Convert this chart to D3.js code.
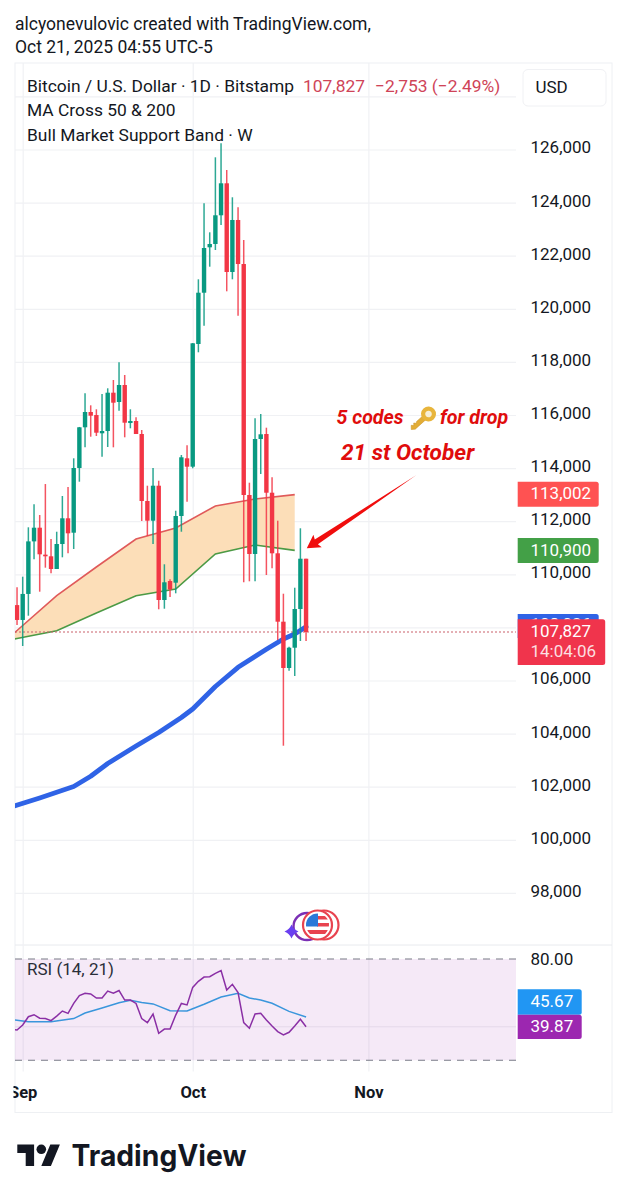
<!DOCTYPE html>
<html>
<head>
<meta charset="utf-8">
<script src="https://d3js.org/d3.v7.min.js"></script>
<style>
html, body { margin: 0; padding: 0; background: #fff; }
svg { display: block; font-family: Roboto, sans-serif; }
</style>
</head>
<body>
<svg id="chart" width="627" height="1200"></svg>
<script>
// daily candles, Aug 31 to Oct 21 2025
var firstDay = "2025-08-31";
var opens = [108840,108280,109260,111240,111755,110740,110678,110200,111141,112109,111567,114004,115537,116113,115999,115311,115397,116840,116490,117130,115698,115774,115284,112761,112019,113337,109032,109747,109684,112196,114369,114053,118674,120606,122316,122441,123522,124727,121386,123345,121687,112987,110765,115096,115284,113073,110791,108215,106471,107235,108693,110587];
var closes = [108280,109260,111240,111755,110753,110678,110200,111141,112109,111544,114004,115537,116113,115974,115333,115397,116840,116463,117130,115710,115774,115284,112761,112019,113337,109032,109699,109430,112196,114407,114053,118701,120606,122290,122441,123522,124727,121386,123345,121687,112987,110765,115096,115273,113073,110791,108215,106471,107235,108693,110587,107827];
var highs = [109510,109910,111770,112636,112233,113400,111330,111604,112949,113288,114369,115550,116817,116365,116215,116791,117006,117318,117985,117507,116215,115913,115435,113337,114004,113525,110377,109812,112395,114493,114859,118710,121111,123974,122881,125706,126234,125228,124200,123823,122591,113450,115876,116038,115522,113653,112019,109269,107270,109495,111733,110587];
var lows = [108090,107300,108440,110565,109345,110249,110038,110200,110640,110791,110953,113488,114783,115183,115209,114429,114795,114783,116162,115160,115499,115284,112007,111443,111141,108682,108704,109145,109284,111604,112734,113993,118362,119363,121586,122215,123156,120659,121111,119740,109699,109736,109736,113778,109974,110226,107525,103544,106369,106169,107488,107488];

// weekly bull market support band
var bandDates = ["2025-08-24","2025-08-31","2025-09-07","2025-09-14","2025-09-21","2025-09-28","2025-10-05","2025-10-12","2025-10-19"];
var bandUpper = [106584,107883,109194,110275,111330,111744,112573,112836,113002];
var bandLower = [107299,107582,107875,108542,109194,109446,110765,111103,110900];

// MA 200
var maDates = ["2025-08-30","2025-09-04","2025-09-10","2025-09-13","2025-09-16","2025-09-21","2025-09-25","2025-09-29","2025-10-01","2025-10-05","2025-10-09","2025-10-14","2025-10-17","2025-10-19","2025-10-21"];
var maValues = [101235,101574,102007,102392,102874,103533,104041,104606,104926,105774,106497,107175,107563,107751,108026];

// RSI, one value per day from Aug 30
var rsiFirstDay = "2025-08-30";
var rsiValues = [38.3,37.9,40.9,45.8,47.0,44.9,44.7,43.5,46.2,49.2,47.8,53.7,58.3,59.7,59.3,56.9,56.9,61.0,59.7,61.3,55.7,55.7,53.7,44.7,42.3,47.4,36.0,38.5,38.5,46.8,53.7,52.8,63.2,66.8,69.3,69.5,71.5,73.1,61.6,65.0,60.1,42.3,39.0,47.4,47.8,43.9,40.3,37.0,35.0,36.6,40.3,44.3,39.87];
var rsiMaDates = ["2025-08-30","2025-08-31","2025-09-02","2025-09-06","2025-09-10","2025-09-12","2025-09-15","2025-09-18","2025-09-20","2025-09-22","2025-09-24","2025-09-27","2025-09-30","2025-10-03","2025-10-06","2025-10-09","2025-10-11","2025-10-13","2025-10-15","2025-10-18","2025-10-21"];
var rsiMaValues = [44.0,43.7,42.9,42.9,44.7,48.0,51.0,54.1,55.5,54.3,53.4,49.4,49.2,53.2,57.5,59.7,56.9,55.7,53.8,49.0,45.67];

var priceTicks = [128000,126000,124000,122000,120000,118000,116000,114000,112000,110000,108000,106000,104000,102000,100000,98000];
var monthTicks = ["2025-09-01","2025-10-01","2025-11-01"];

var parse = d3.utcParse("%Y-%m-%d");
var days = d3.utcDay.range(parse(firstDay), d3.utcDay.offset(parse(firstDay), opens.length));
var rsiDays = d3.utcDay.range(parse(rsiFirstDay), d3.utcDay.offset(parse(rsiFirstDay), rsiValues.length));

var candles = days.map(function(d, i) {
  return { date: d, o: opens[i], c: closes[i], h: highs[i], l: lows[i] };
});

var UP = "#089981", DOWN = "#f23645", GRID = "#f0f1f4", BORDER = "#eef0f3";
var left = 15, right = 516, outerRight = 612;

var svg = d3.select("#chart");

var x = d3.scaleUtc().domain([parse("2025-09-01"), parse("2025-11-01")]).range([22.7, 368.4]);
var y = d3.scaleLinear().domain([126000, 98000]).range([149.5, 892.9]);
var rsiY = d3.scaleLinear().domain([80, 20]).range([959, 1060.3]);

// clip paths
var defs = svg.append("defs");
defs.append("clipPath").attr("id", "priceClip").append("rect")
  .attr("x", left).attr("y", 63).attr("width", right - left).attr("height", 882);
defs.append("clipPath").attr("id", "rsiClip").append("rect")
  .attr("x", left).attr("y", 945).attr("width", right - left).attr("height", 127);
defs.append("clipPath").attr("id", "monthClip").append("rect")
  .attr("x", 13.5).attr("y", 1075).attr("width", 500).attr("height", 35);

// frame
svg.append("rect").attr("x", left).attr("y", 63).attr("width", outerRight - left).attr("height", 1049.5)
  .attr("fill", "none").attr("stroke", BORDER);
svg.append("line").attr("x1", left).attr("x2", outerRight).attr("y1", 945).attr("y2", 945)
  .attr("stroke", "#e8eaee");

// price axis, the ticks double as the grid
var priceAxis = svg.append("g").attr("transform", "translate(" + right + ",0)")
  .call(d3.axisRight(y).tickValues(priceTicks)
    .tickFormat(d3.format(",")).tickSizeInner(-(right - left)).tickSizeOuter(0).tickPadding(14.5));
priceAxis.select(".domain").remove();
priceAxis.selectAll("line").attr("stroke", GRID).attr("stroke-width", 1.2);
priceAxis.selectAll("text").attr("font-size", 17).attr("font-family", "Roboto").attr("fill", "#131722")
  .attr("dy", "0.2em");
priceAxis.selectAll(".tick").filter(function(d) { return d == 128000; }).select("text").remove();

// month grid lines
var monthGrid = svg.append("g").attr("transform", "translate(0,1071.5)")
  .call(d3.axisBottom(x).tickValues(monthTicks.map(parse)).tickFormat("")
    .tickSizeInner(-1008.5).tickSizeOuter(0));
monthGrid.select(".domain").remove();
monthGrid.selectAll("line").attr("stroke", GRID).attr("stroke-width", 1.2);

// month labels, Sep gets cut by the pane edge
var monthAxis = svg.append("g").attr("clip-path", "url(#monthClip)").append("g")
  .attr("transform", "translate(0,1071.5)")
  .call(d3.axisBottom(x).tickValues(monthTicks.map(parse)).tickFormat(d3.utcFormat("%b"))
    .tickSize(0).tickPadding(15));
monthAxis.select(".domain").remove();
monthAxis.selectAll("text").attr("font-size", 16.5).attr("font-weight", 700).attr("font-family", "Roboto")
  .attr("fill", "#131722");

// price pane
var pricePane = svg.append("g").attr("clip-path", "url(#priceClip)");

var band = bandDates.map(function(d, i) {
  return { date: parse(d), up: bandUpper[i], low: bandLower[i] };
});
pricePane.append("path").datum(band).attr("fill", "#fcdcb4").attr("fill-opacity", 0.95)
  .attr("d", d3.area().x(function(d) { return x(d.date); })
    .y0(function(d) { return y(d.low); }).y1(function(d) { return y(d.up); }));
pricePane.append("path").datum(band).attr("fill", "none").attr("stroke", "#e05a5a").attr("stroke-width", 1.6)
  .attr("d", d3.line().x(function(d) { return x(d.date); }).y(function(d) { return y(d.up); }));
pricePane.append("path").datum(band).attr("fill", "none").attr("stroke", "#4c9a45").attr("stroke-width", 1.6)
  .attr("d", d3.line().x(function(d) { return x(d.date); }).y(function(d) { return y(d.low); }));

var ma = maDates.map(function(d, i) { return { date: parse(d), v: maValues[i] }; });
pricePane.append("path").datum(ma).attr("fill", "none").attr("stroke", "#2f63e6").attr("stroke-width", 4.8)
  .attr("stroke-linecap", "round").attr("stroke-linejoin", "round")
  .attr("d", d3.line().x(function(d) { return x(d.date); }).y(function(d) { return y(d.v); }));

// last price line
pricePane.append("line").attr("x1", left).attr("x2", right).attr("y1", y(107827)).attr("y2", y(107827))
  .attr("stroke", "#c9606a").attr("stroke-width", 1.2).attr("stroke-dasharray", "2,2");

var candle = pricePane.selectAll(".candle").data(candles).enter().append("g").attr("class", "candle")
  .attr("fill", function(d) { return d.c >= d.o ? UP : DOWN; })
  .attr("stroke", function(d) { return d.c >= d.o ? UP : DOWN; });
candle.append("line")
  .attr("x1", function(d) { return x(d.date); }).attr("x2", function(d) { return x(d.date); })
  .attr("y1", function(d) { return y(d.h); }).attr("y2", function(d) { return y(d.l); })
  .attr("stroke-width", 1.5).attr("stroke-opacity", 0.85);
candle.append("rect")
  .attr("x", function(d) { return x(d.date) - 2.2; }).attr("width", 4.4)
  .attr("y", function(d) { return y(Math.max(d.o, d.c)); })
  .attr("height", function(d) { return Math.max(1.5, Math.abs(y(d.o) - y(d.c))); })
  .attr("stroke", "none");

// arrow, anchored on date and price
var arrowTip = [new Date(Date.UTC(2025, 9, 21, 3)), 110979];
var arrowTail = [new Date(Date.UTC(2025, 10, 9, 10)), 113728];
var tipX = x(arrowTip[0]), tipY = y(arrowTip[1]), tailX = x(arrowTail[0]), tailY = y(arrowTail[1]);
var len = Math.hypot(tailX - tipX, tailY - tipY);
svg.append("g").attr("transform", "translate(" + tipX + "," + tipY + ") rotate(" + (Math.atan2(tailY - tipY, tailX - tipX) * 180 / Math.PI) + ")")
  .append("path").attr("fill", "#f00d0d")
  .attr("d", "M0,0 L13,-7.5 L11.5,-2.8 L" + len + ",0 L11.5,2.8 L13,7.5 Z");

// RSI pane
var rsiPane = svg.append("g").attr("clip-path", "url(#rsiClip)");
rsiPane.append("rect").attr("x", left).attr("width", right - left)
  .attr("y", rsiY(80)).attr("height", rsiY(20) - rsiY(80)).attr("fill", "#9c27b0").attr("fill-opacity", 0.1);
rsiPane.append("line").attr("x1", left).attr("x2", right).attr("y1", rsiY(39.87)).attr("y2", rsiY(39.87))
  .attr("stroke", "#e4d8ea");
[80, 20].forEach(function(v) {
  rsiPane.append("line").attr("x1", left).attr("x2", right).attr("y1", rsiY(v)).attr("y2", rsiY(v))
    .attr("stroke", "#787b86").attr("stroke-width", 1.1).attr("stroke-dasharray", "7,6");
});
rsiPane.append("path").datum(rsiMaDates.map(function(d, i) { return { date: parse(d), v: rsiMaValues[i] }; }))
  .attr("fill", "none").attr("stroke", "#3a96dc").attr("stroke-width", 1.5)
  .attr("d", d3.line().x(function(d) { return x(d.date); }).y(function(d) { return rsiY(d.v); }));
rsiPane.append("path").datum(rsiDays.map(function(d, i) { return { date: d, v: rsiValues[i] }; }))
  .attr("fill", "none").attr("stroke", "#8a2fa5").attr("stroke-width", 1.5)
  .attr("d", d3.line().x(function(d) { return x(d.date); }).y(function(d) { return rsiY(d.v); }));

var rsiAxis = svg.append("g").attr("transform", "translate(" + right + ",0)")
  .call(d3.axisRight(rsiY).tickValues([80]).tickFormat(d3.format(".2f")).tickSize(0).tickPadding(14.5));
rsiAxis.select(".domain").remove();
rsiAxis.selectAll("text").attr("font-size", 17).attr("font-family", "Roboto").attr("fill", "#131722").attr("dy", "0.3em");

// text helper
function label(txt, px, py, size, color, weight, style) {
  return svg.append("text").attr("x", px).attr("y", py).attr("font-size", size).attr("fill", color)
    .attr("font-weight", weight || 400).attr("font-style", style || "normal").text(txt);
}

// price tags
function tag(px0, py0, w, h, color, lines, shift) {
  svg.append("path").attr("fill", color)
    .attr("d", "M" + px0 + "," + py0 + " h" + (w - 2.5) + " q2.5,0 2.5,2.5 v" + (h - 5) + " q0,2.5 -2.5,2.5 h-" + (w - 2.5) + " Z");
  lines.forEach(function(l, i) {
    label(l, 530.5, py0 + h / 2 + 5 + (shift || 0) - (lines.length - 1) * 10.5 + i * 20, 17, "#fff").attr("fill-opacity", i ? 0.85 : 1);
  });
}
tag(517.7, 481.7, 81, 25, "#ff5252", [d3.format(",")(bandUpper[bandUpper.length - 1])]);
tag(517.7, 538, 81, 25, "#43a047", [d3.format(",")(bandLower[bandLower.length - 1])]);
tag(517.7, 614, 81, 24, "#2f63e6", [d3.format(",")(Math.round(maValues[maValues.length - 1]))], -1);
tag(517.7, 619.3, 87.5, 45.7, "#f0344c", [d3.format(",")(closes[closes.length - 1]), "14:04:06"]);
tag(517.7, 989.3, 64, 25.4, "#2196f3", ["45.67"]);
tag(517.7, 1014.7, 64, 24.3, "#9c27b0", ["39.87"]);

// header and legend
label("alcyonevulovic created with TradingView.com,", 15, 29.5, 17.5, "#131722");
label("Oct 21, 2025 04:55 UTC-5", 15, 53, 17.5, "#131722");
label("Bitcoin / U.S. Dollar · 1D · Bitstamp", 27, 92, 17.4, "#131722");
label("107,827", 303, 92, 17.4, "#cf4458");
label("−2,753 (−2.49%)", 375, 92, 17.4, "#cf4458");
label("MA Cross 50 & 200", 27, 116, 17.4, "#131722");
label("Bull Market Support Band · W", 27, 141, 17.4, "#131722");
label("RSI (14, 21)", 27, 974.5, 17, "#2a2e39");

svg.append("rect").attr("x", 523).attr("y", 69.5).attr("width", 83).attr("height", 36.5).attr("rx", 5)
  .attr("fill", "#fff").attr("stroke", "#f0f1f4");
label("USD", 535.5, 93, 17, "#131722");

// annotation
label("5 codes", 336.5, 424, 19.6, "#e00c0c", 700, "italic");
label("for drop", 440, 424, 19.6, "#e00c0c", 700, "italic");
label("21 st October", 341, 459.5, 22.6, "#e00c0c", 700, "italic");
var key = svg.append("g").attr("transform", "translate(428.5,414) rotate(48)");
key.append("path").attr("fill", "#e3ad35").attr("stroke", "#c8922a").attr("stroke-width", 0.5)
  .attr("d", "M-2.4,4 h4.8 v16 l-2.4,3.2 l-3.2,-2.8 l2,-1.7 l-2,-1.7 l2,-1.7 l-1.2,-1.4 Z");
key.append("circle").attr("r", 5.4).attr("fill", "#f6efd8").attr("stroke", "#e8b53c").attr("stroke-width", 4.2);

// floating icons
var icons = svg.append("g");
icons.append("circle").attr("cx", 307).attr("cy", 926.5).attr("r", 13.5).attr("fill", "none").attr("stroke", "#7b2fb5").attr("stroke-width", 2.4);
icons.append("path").attr("fill", "#6a3ff0")
  .attr("d", "M291.5,924.5 Q293.5,929.5 298.5,931.5 Q293.5,933.5 291.5,938.5 Q289.5,933.5 284.5,931.5 Q289.5,929.5 291.5,924.5 Z");
icons.append("circle").attr("cx", 324).attr("cy", 925).attr("r", 14.5).attr("fill", "#fff").attr("stroke", "#e8434f").attr("stroke-width", 2.2);
icons.append("circle").attr("cx", 317.5).attr("cy", 925).attr("r", 14.5).attr("fill", "#fff").attr("stroke", "#e8434f").attr("stroke-width", 2.2);
defs.append("clipPath").attr("id", "flagClip").append("circle").attr("cx", 317.5).attr("cy", 925).attr("r", 11.5);
var flag = icons.append("g").attr("clip-path", "url(#flagClip)");
flag.append("rect").attr("x", 305).attr("y", 913).attr("width", 25).attr("height", 24).attr("fill", "#fff");
flag.append("rect").attr("x", 317).attr("y", 916).attr("width", 13).attr("height", 3.5).attr("fill", "#e8434f");
flag.append("rect").attr("x", 317).attr("y", 923).attr("width", 13).attr("height", 3.5).attr("fill", "#e8434f");
flag.append("rect").attr("x", 305).attr("y", 930).attr("width", 25).attr("height", 4).attr("fill", "#e8434f");
flag.append("rect").attr("x", 305).attr("y", 913).attr("width", 13).attr("height", 13.5).attr("fill", "#2b78d8");

// logo
var logo = svg.append("g").attr("transform", "translate(17.3,1139.7) scale(1.2)").attr("fill", "#131722");
logo.append("path").attr("d", "M14 22H7V11H0V4h14v18zM28 22h-8l7.5-18h8L28 22z");
logo.append("circle").attr("cx", 20).attr("cy", 8).attr("r", 4);
svg.append("text").attr("x", 71.5).attr("y", 1166).attr("font-family", "Inter").attr("font-size", 29.5)
  .attr("font-weight", 700).attr("fill", "#131722").attr("textLength", 175).attr("lengthAdjust", "spacingAndGlyphs")
  .text("TradingView");
</script>
</body>
</html>
